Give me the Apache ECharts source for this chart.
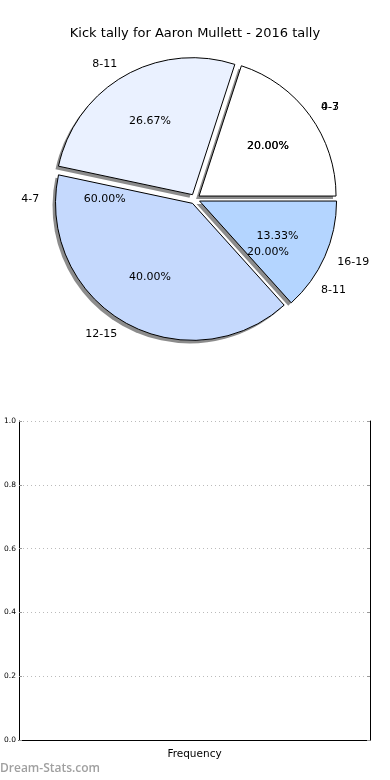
<!DOCTYPE html>
<html><head><meta charset="utf-8">
<script src="https://cdn.jsdelivr.net/npm/echarts@6/dist/echarts.min.js"></script>
<style>html,body{margin:0;padding:0;background:#fff}#c{width:390px;height:780px}</style>
</head><body><div id="c"></div>
<script>
const titleText = 'Kick tally for Aaron Mullett - 2016 tally';
const pieACategories = ['0-3', '8-11', '12-15', '16-19'];
const pieAValues = [3, 4, 6, 2];
const pieAColors = ['#ffffff', '#eaf1ff', '#c5d9fd', '#b4d5ff'];
const pieBCategories = ['4-7', '4-7', '8-11'];
const pieBValues = [1, 3, 1];
const yTicks = [0, 0.2, 0.4, 0.6, 0.8, 1.0];
const xLabel = 'Frequency';
const watermark = 'Dream-Stats.com';

const FONT = '"DejaVu Sans", sans-serif';
const CX = 195, CY = 199, R = 137, OFF = 5;

function items(prefix, cats, vals, colors) {
  return cats.map((c, i) => ({
    name: prefix + i, value: vals[i], selected: true,
    itemStyle: colors ? { color: colors[i] } : { color: 'rgba(0,0,0,0)', borderWidth: 0 }
  }));
}
const pctFmt = p => p.percent.toFixed(2) + '%';
const base = {
  type: 'pie', startAngle: 0, clockwise: false, selectedMode: 'multiple',
  selectedOffset: OFF, avoidLabelOverlap: false, animation: false,
  emphasis: { disabled: true }, silent: true, labelLayout: { hideOverlap: false }
};
const nameLabelFor = cats => ({ show: true, position: 'outside', color: '#000', fontSize: 11, fontFamily: FONT,
  distanceToLabelLine: 0, formatter: p => cats[p.dataIndex] });
const nameLine = { show: false, length: R * 0.1, length2: 0 };
const pctLabel = { show: true, position: 'inside', formatter: pctFmt, color: '#000', fontSize: 11, fontFamily: FONT };

const chart = echarts.init(document.getElementById('c'), null, { renderer: 'canvas' });
chart.setOption({
  animation: false,
  backgroundColor: '#fff',
  title: { text: titleText, left: 'center', top: 22, textStyle: { fontSize: 13, fontWeight: 'normal', fontFamily: FONT, color: '#000' } },
  graphic: [{ type: 'text', left: 0, top: 763, style: { text: watermark, fill: '#a0a0a0', font: '600 12px "Open Sans", sans-serif' } }],
  grid: { left: 19, right: 20, top: 421, bottom: 40, show: false },
  xAxis: [
    { type: 'category', data: [xLabel], position: 'bottom', name: xLabel, nameLocation: 'middle', nameGap: 9,
      nameTextStyle: { fontSize: 10.5, fontFamily: FONT, color: '#000' },
      axisLabel: { show: false }, axisTick: { show: false },
      axisLine: { lineStyle: { color: '#222', type: [1, 2], width: 1 } } },
    { type: 'category', data: [xLabel], position: 'top', axisLabel: { show: false }, axisTick: { show: false },
      axisLine: { lineStyle: { color: '#000', width: 1 } } }
  ],
  yAxis: [
    { type: 'value', min: 0, max: 1, interval: 0.2, position: 'left',
      axisLabel: { fontSize: 7.5, fontFamily: FONT, color: '#000', margin: 3, formatter: v => v.toFixed(1) },
      axisLine: { show: true, lineStyle: { color: '#000', width: 1 } },
      axisTick: { show: true, inside: true, length: 3, lineStyle: { color: '#999' } },
      splitLine: { show: true, lineStyle: { color: '#bbb', type: [1, 3] } } },
    { type: 'value', min: 0, max: 1, interval: 0.2, position: 'right',
      axisLabel: { show: false },
      axisLine: { show: true, lineStyle: { color: '#000', width: 1 } },
      axisTick: { show: true, inside: true, length: 3, lineStyle: { color: '#999' } },
      splitLine: { show: false } }
  ],
  series: [
    Object.assign({}, base, { name: 'pieBNames', center: [CX, CY], radius: [0, R], z: 4,
      data: items('b', pieBCategories, pieBValues, null), label: nameLabelFor(pieBCategories), labelLine: nameLine }),
    Object.assign({}, base, { name: 'shadowA', center: [CX - 3, CY + 3], radius: [0, R], z: 2,
      data: pieAValues.map((v, i) => ({ name: 's' + i, value: v, selected: true })),
      itemStyle: { color: 'rgba(0,0,0,0.45)', borderWidth: 0 }, label: { show: false }, labelLine: { show: false } }),
    Object.assign({}, base, { name: 'pieA', center: [CX, CY], radius: [0, R], z: 3,
      data: items('a', pieACategories, pieAValues, pieAColors),
      itemStyle: { borderColor: '#000', borderWidth: 1 },
      label: nameLabelFor(pieACategories), labelLine: nameLine }),
    Object.assign({}, base, { name: 'pieAPct', center: [CX, CY], radius: [0, R * 1.2], z: 4,
      data: items('ap', pieACategories, pieAValues, null), label: pctLabel, labelLine: { show: false } }),
    Object.assign({}, base, { name: 'pieBPct', center: [CX, CY], radius: [0, R * 1.2], z: 4,
      data: items('bp', pieBCategories, pieBValues, null), label: pctLabel, labelLine: { show: false } })
  ]
});
</script></body></html>
